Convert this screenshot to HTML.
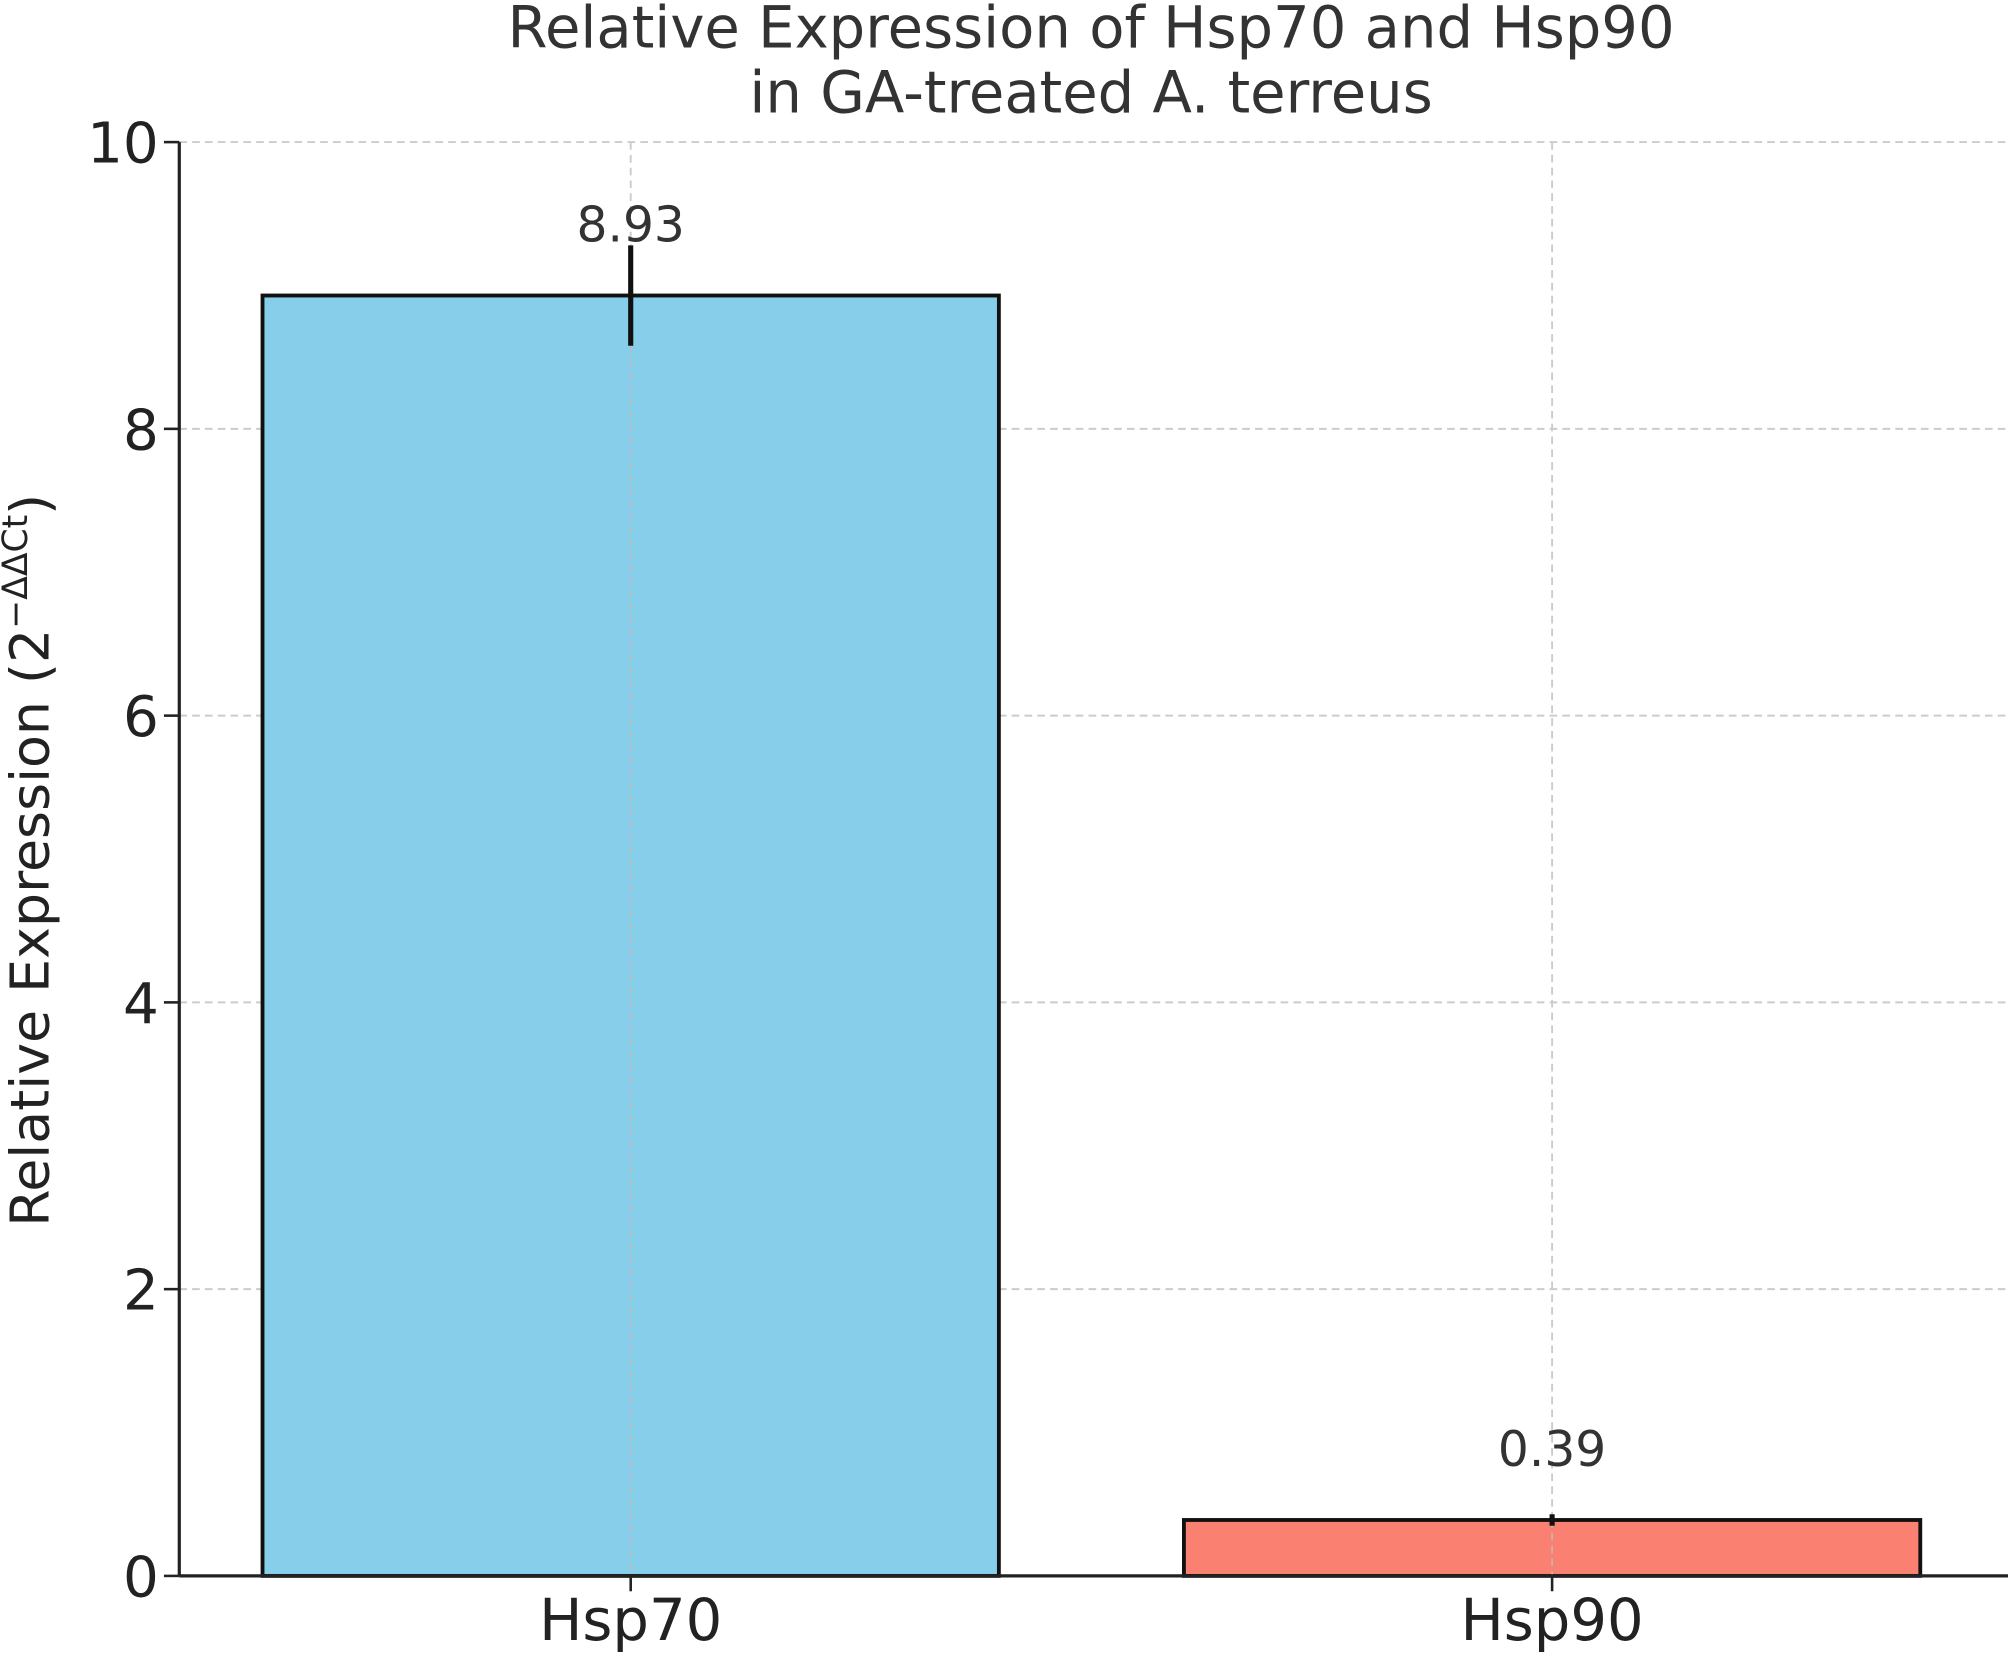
<!DOCTYPE html>
<html><head><meta charset="utf-8"><style>
html,body{margin:0;padding:0;background:#fff;}
svg{display:block;font-family:"DejaVu Sans","Liberation Sans",sans-serif;}
</style></head><body>
<svg id="chart" width="2008" height="1654" viewBox="0 0 1568 1292" preserveAspectRatio="none" xmlns="http://www.w3.org/2000/svg">
<rect width="1568" height="1292" fill="#fff"/>
<text x="852" y="37" text-anchor="middle" font-size="45" fill="#333">Relative Expression of Hsp70 and Hsp90</text>
<text x="852" y="88" text-anchor="middle" font-size="45" fill="#333">in GA-treated A. terreus</text>
<g id="grid"></g><g id="bars"></g><g id="axes"></g>
<text transform="translate(38,672) rotate(-90)" text-anchor="middle" font-size="42" fill="#222">Relative Expression (2<tspan font-size="27" dy="-17">−ΔΔCt</tspan><tspan dy="17">)</tspan></text>
</svg>
<script>
const categories = ["Hsp70","Hsp90"];
const values = [8.93, 0.39];
const errors = [0.35, 0.04];
const colors = ["#87CEEB","#FA8072"];
const yTicks = [0,2,4,6,8,10];

const NS="http://www.w3.org/2000/svg";
const x0=140, plotRight=1568, yBottom=1231, yTop=111, yMax=10;
const catStart=492.5, catStep=719.5, barW=575;
const y=v=>yBottom-(v/yMax)*(yBottom-yTop);
const xc=i=>catStart+i*catStep;
function mk(tag,attrs,parent){const e=document.createElementNS(NS,tag);for(const k in attrs)e.setAttribute(k,attrs[k]);parent.appendChild(e);return e;}
const grid=document.getElementById('grid'),bars=document.getElementById('bars'),axes=document.getElementById('axes');

yTicks.forEach(t=>{
  if(t>0){const g=mk('line',{x1:x0,x2:plotRight,y1:y(t),y2:y(t),stroke:'#ccc','stroke-width':1.5,'stroke-dasharray':'6,4'},grid);
  
  }
  const tk=mk('line',{x1:x0-12,x2:x0,y1:y(t),y2:y(t),stroke:'#222','stroke-width':2},axes);
  
  
  const lb=mk('text',{x:x0-16,y:y(t)+16,'text-anchor':'end','font-size':44,fill:'#222'},axes);
  lb.textContent=t;
  
  
});
categories.forEach((c,i)=>{
  const gx=mk('line',{x1:xc(i),x2:xc(i),y1:yTop,y2:yBottom,stroke:'#ccc','stroke-width':1.5,'stroke-dasharray':'6,4'},grid);
  
  
  const b=mk('rect',{x:xc(i)-barW/2,y:y(values[i]),width:barW,height:y(0)-y(values[i]),fill:colors[i],stroke:'#111','stroke-width':3},bars);
  
  
  const gx2=mk('line',{x1:xc(i),x2:xc(i),y1:y(values[i]),y2:yBottom,stroke:'#bbb','stroke-width':1.2,'stroke-dasharray':'6,4'},bars);
  
  
  const eb=mk('line',{x1:xc(i),x2:xc(i),y1:y(values[i]+errors[i]),y2:y(values[i]-errors[i]),stroke:'#111','stroke-width':4},bars);
  
  
  const vl=mk('text',{x:xc(i),y:y(values[i]+0.5)+14,'text-anchor':'middle','font-size':38,fill:'#333'},bars);
  vl.textContent=values[i].toFixed(2);
  
  
  const tk=mk('line',{x1:xc(i),x2:xc(i),y1:yBottom,y2:yBottom+12,stroke:'#222','stroke-width':2},axes);
  
  
  const xl=mk('text',{x:xc(i),y:yBottom+50,'text-anchor':'middle','font-size':45,fill:'#222'},axes);
  xl.textContent=c;
  
  
});
const ya=mk('line',{x1:x0,x2:x0,y1:yTop,y2:yBottom,stroke:'#222','stroke-width':2.5},axes);


const xa=mk('line',{x1:x0,x2:plotRight,y1:yBottom,y2:yBottom,stroke:'#222','stroke-width':2.5},axes);


</script>
</body></html>
